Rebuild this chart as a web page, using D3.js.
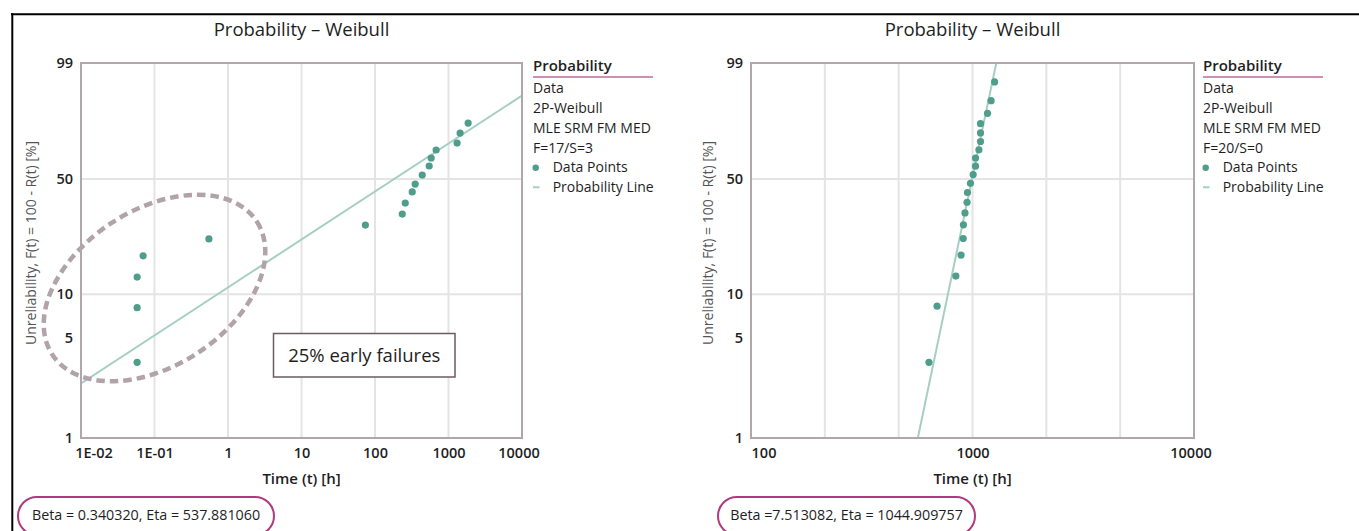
<!DOCTYPE html>
<html>
<head>
<meta charset="utf-8">
<script src="https://cdn.jsdelivr.net/npm/d3@7"></script>
<style>
  html, body { margin: 0; padding: 0; background: #fff; }
  svg { display: block; font-family: "Open Sans", "Noto Sans", sans-serif; }
</style>
</head>
<body>
<svg id="chart" width="1359" height="531"></svg>
<script>
// ---- Data set A: early failures mixed with wear-out (17 failures, 3 suspensions)
const setATime = [0.058, 0.058, 0.058, 0.07, 0.55, 74, 235, 258, 321, 352, 439, 546, 581, 679, 1309, 1438, 1849];
const setAUnreliability = [3.4, 8.1, 13.0, 17.9, 22.9, 27.8, 32.3, 37.3, 42.9, 47.1, 52.2, 57.5, 62.3, 67.1, 71.2, 76.9, 82.2];
const setABeta = 0.340320;
const setAEta = 537.881060;
const setALegend = ["Data", "2P-Weibull", "MLE SRM FM MED", "F=17/S=3"];
const setAXTicks = [0.01, 0.1, 1, 10, 100, 1000, 10000];
const setAXTickLabels = ["1E-02", "1E-01", "1", "10", "100", "1000", "10000"];
const setAParams = "Beta = 0.340320, Eta = 537.881060";

// ---- Data set B: wear-out only (20 failures, no suspensions)
const setBTime = [636, 692, 841, 888, 908, 910, 925, 945, 949, 979, 1007, 1032, 1032, 1069, 1087, 1087, 1087, 1169, 1213, 1258];
const setBUnreliability = [3.4, 8.3, 13.2, 18.1, 23.0, 27.9, 32.8, 37.7, 42.6, 47.5, 52.5, 57.4, 62.3, 67.2, 72.1, 77.0, 81.9, 86.8, 91.7, 96.6];
const setBBeta = 7.513082;
const setBEta = 1044.909757;
const setBLegend = ["Data", "2P-Weibull", "MLE SRM FM MED", "F=20/S=0"];
const setBXTicks = [100, 1000, 10000];
const setBXTickLabels = ["100", "1000", "10000"];
const setBParams = "Beta =7.513082, Eta = 1044.909757";

// ---- Shared axis values
const yTicks = [1, 5, 10, 50, 99];
const yTickLabels = ["1", "5", "10", "50", "99"];
const yGridValues = [10, 50];
const chartTitle = "Probability \u2013 Weibull";
const xTitle = "Time (t) [h]";
const yTitle = "Unreliability,  F(t) = 100 - R(t) [%]";
const legendTitle = "Probability";
const legendPoints = "Data Points";
const legendLine = "Probability Line";
const noteText = "25% early failures";

// ---- Colours
const C = {
  frame: "#000",
  border: "#b3a6ab",
  grid: "#e6e3e4",
  point: "#4f9d8b",
  line: "#a6cfc3",
  text: "#1e1e1e",
  yTitle: "#555",
  accent: "#c2679a",
  pill: "#b03a7b",
  ellipse: "#b1a3a9",
  note: "#6d5a62"
};

const svg = d3.select("#chart");

// Outer frame (top and left edges)
svg.append("line").attr("x1", 11).attr("x2", 1359).attr("y1", 14.3).attr("y2", 14.3)
  .attr("stroke", C.frame).attr("stroke-width", 2);
svg.append("line").attr("x1", 12.3).attr("x2", 12.3).attr("y1", 13.3).attr("y2", 531)
  .attr("stroke", C.frame).attr("stroke-width", 2);

// Weibull probability transform: ln(-ln(1 - F))
const weibullT = p => Math.log(-Math.log(1 - p / 100));

// A scale object usable by d3.axis that maps unreliability (%) through the Weibull transform
function probabilityScale(lin) {
  const s = p => lin(weibullT(p));
  s.range = () => lin.range();
  s.domain = () => [1, 99];
  s.copy = () => probabilityScale(lin.copy());
  return s;
}

function drawPanel(cfg) {
  const g = svg.append("g");
  const { x0, x1, y0, y1 } = cfg;

  const x = d3.scaleLog().domain(cfg.xDomain).range([x0, x1]);
  const lin = d3.scaleLinear().domain([weibullT(1), weibullT(99)]).range([y1, y0]);
  const y = probabilityScale(lin);

  // Title
  g.append("text").attr("x", (x0 + x1) / 2).attr("y", 36)
    .attr("text-anchor", "middle").attr("font-size", 18.5).attr("fill", C.text)
    .text(chartTitle);

  // Vertical grid: six equal divisions of the log range
  const lo = Math.log10(cfg.xDomain[0]), hi = Math.log10(cfg.xDomain[1]);
  const gridX = d3.range(1, 6).map(i => Math.pow(10, lo + i * (hi - lo) / 6));
  g.selectAll(".gx").data(gridX).join("line")
    .attr("x1", d => x(d)).attr("x2", d => x(d)).attr("y1", y0).attr("y2", y1)
    .attr("stroke", C.grid).attr("stroke-width", 2);
  g.selectAll(".gy").data(yGridValues).join("line")
    .attr("x1", x0).attr("x2", x1).attr("y1", d => y(d)).attr("y2", d => y(d))
    .attr("stroke", C.grid).attr("stroke-width", 2);

  // Clip region for the fitted line
  const clipId = "clip-" + cfg.id;
  g.append("clipPath").attr("id", clipId).append("rect")
    .attr("x", x0).attr("y", y0).attr("width", x1 - x0).attr("height", y1 - y0);

  // Fitted probability line: ln(-ln(1-F)) = beta * ln(t / eta)
  const fitLine = d3.line()
    .x(d => x(d))
    .y(d => lin(cfg.beta * Math.log(d / cfg.eta)));
  g.append("path").datum(cfg.xDomain)
    .attr("d", fitLine)
    .attr("clip-path", `url(#${clipId})`)
    .attr("fill", "none").attr("stroke", C.line).attr("stroke-width", 2);

  // Annotation extras (ellipse + note box)
  if (cfg.annotate) cfg.annotate(g, x, y);

  // Data points
  const pts = cfg.time.map((t, i) => ({ t, f: cfg.unrel[i] }));
  g.selectAll(".pt").data(pts).join("circle")
    .attr("cx", d => x(d.t)).attr("cy", d => y(d.f)).attr("r", 3.6)
    .attr("fill", C.point);

  // Plot border
  g.append("rect").attr("x", x0).attr("y", y0).attr("width", x1 - x0).attr("height", y1 - y0)
    .attr("fill", "none").attr("stroke", C.border).attr("stroke-width", 2);

  // X axis labels
  const xAxis = d3.axisBottom(x).tickValues(cfg.xTicks)
    .tickFormat((d, i) => cfg.xTickLabels[i]).tickSize(0).tickPadding(9.5);
  const gx = g.append("g").attr("transform", `translate(0,${y1})`).call(xAxis)
    .attr("font-family", null).attr("font-size", null);
  gx.select(".domain").remove();
  gx.selectAll("text").attr("font-size", 14.5)
    .attr("font-weight", 600).attr("fill", C.text);
  const xt = gx.selectAll("text").nodes();
  d3.select(xt[0]).attr("dx", cfg.firstLabelShift);
  d3.select(xt[xt.length - 1]).attr("dx", -3.5);

  // Y axis labels
  const yAxis = d3.axisLeft(y).tickValues(yTicks)
    .tickFormat((d, i) => yTickLabels[i]).tickSize(0).tickPadding(cfg.yPad);
  const gy = g.append("g").attr("transform", `translate(${x0},0)`).call(yAxis)
    .attr("font-family", null).attr("font-size", null);
  gy.select(".domain").remove();
  gy.selectAll("text").attr("font-size", 14.5)
    .attr("font-weight", 600).attr("fill", C.text);

  // Axis titles
  g.append("text").attr("x", (x0 + x1) / 2).attr("y", 484)
    .attr("text-anchor", "middle").attr("font-size", 15).attr("font-weight", 600)
    .attr("fill", C.text).text(xTitle);
  g.append("text")
    .attr("transform", `translate(${x0 + cfg.yTitleOffset},243) rotate(-90)`)
    .attr("text-anchor", "middle").attr("font-size", 14.5).attr("fill", C.yTitle)
    .attr("textLength", 204).attr("lengthAdjust", "spacingAndGlyphs")
    .text(yTitle);

  // Legend
  const lx = x1 + cfg.legendGap;
  const step = 19.75;
  g.append("text").attr("x", lx).attr("y", 70.7).attr("font-size", 15)
    .attr("font-weight", 600).attr("fill", C.text).text(legendTitle);
  g.append("line").attr("x1", lx).attr("x2", lx + 120).attr("y1", 77).attr("y2", 77)
    .attr("stroke", C.accent).attr("stroke-width", 1.3);
  cfg.legend.forEach((s, i) => {
    g.append("text").attr("x", lx).attr("y", 93.3 + i * step).attr("font-size", 14)
      .attr("fill", C.text).text(s);
  });
  const ry = 93.3 + cfg.legend.length * step;
  g.append("circle").attr("cx", lx + 2.7).attr("cy", ry - 4.5).attr("r", 3.2).attr("fill", C.point);
  g.append("text").attr("x", lx + 19.7).attr("y", ry).attr("font-size", 14)
    .attr("fill", C.text).text(legendPoints);
  g.append("line").attr("x1", lx).attr("x2", lx + 6.5).attr("y1", ry + step - 4.8).attr("y2", ry + step - 4.8)
    .attr("stroke", C.line).attr("stroke-width", 2);
  g.append("text").attr("x", lx + 19.7).attr("y", ry + step).attr("font-size", 14)
    .attr("fill", C.text).text(legendLine);

  // Parameter pill
  g.append("rect").attr("x", cfg.pillX).attr("y", 497).attr("width", cfg.pillW).attr("height", 38)
    .attr("rx", 19).attr("ry", 19)
    .attr("fill", "#fff").attr("stroke", C.pill).attr("stroke-width", 2);
  g.append("text").attr("x", cfg.pillX + cfg.pillW / 2).attr("y", 519.5)
    .attr("text-anchor", "middle").attr("font-size", 14.3).attr("fill", C.text)
    .text(cfg.params);
}

drawPanel({
  id: "a", x0: 81, x1: 522, y0: 63, y1: 438,
  xDomain: [0.01, 10000], xTicks: setAXTicks, xTickLabels: setAXTickLabels,
  firstLabelShift: 12.5, yPad: 8, yTitleOffset: -45, legendGap: 11,
  time: setATime, unrel: setAUnreliability, beta: setABeta, eta: setAEta,
  legend: setALegend, params: setAParams, pillX: 18, pillW: 256,
  annotate: (g, x, y) => {
    // Dashed ellipse around the early failures
    const cx = x(0.1), cy = y(11);
    g.append("ellipse").attr("cx", 0).attr("cy", 0).attr("rx", 122).attr("ry", 78)
      .attr("transform", `translate(${cx},${cy}) rotate(-33)`)
      .attr("fill", "none").attr("stroke", C.ellipse).attr("stroke-width", 4.5)
      .attr("stroke-dasharray", "8.5,5");
    // Note box
    const bx = 273.5, by = 333.5, bw = 181.5, bh = 43.5;
    g.append("rect").attr("x", bx).attr("y", by).attr("width", bw).attr("height", bh)
      .attr("fill", "#fff").attr("stroke", C.note).attr("stroke-width", 1.5);
    g.append("text").attr("x", bx + bw / 2).attr("y", by + bh / 2 + 6.5)
      .attr("text-anchor", "middle").attr("font-size", 18.5).attr("fill", C.text)
      .text(noteText);
  }
});

drawPanel({
  id: "b", x0: 751, x1: 1194, y0: 63, y1: 438,
  xDomain: [100, 10000], xTicks: setBXTicks, xTickLabels: setBXTickLabels,
  firstLabelShift: 12.5, yPad: 8, yTitleOffset: -38, legendGap: 9,
  time: setBTime, unrel: setBUnreliability, beta: setBBeta, eta: setBEta,
  legend: setBLegend, params: setBParams, pillX: 718, pillW: 257
});
</script>
</body>
</html>
